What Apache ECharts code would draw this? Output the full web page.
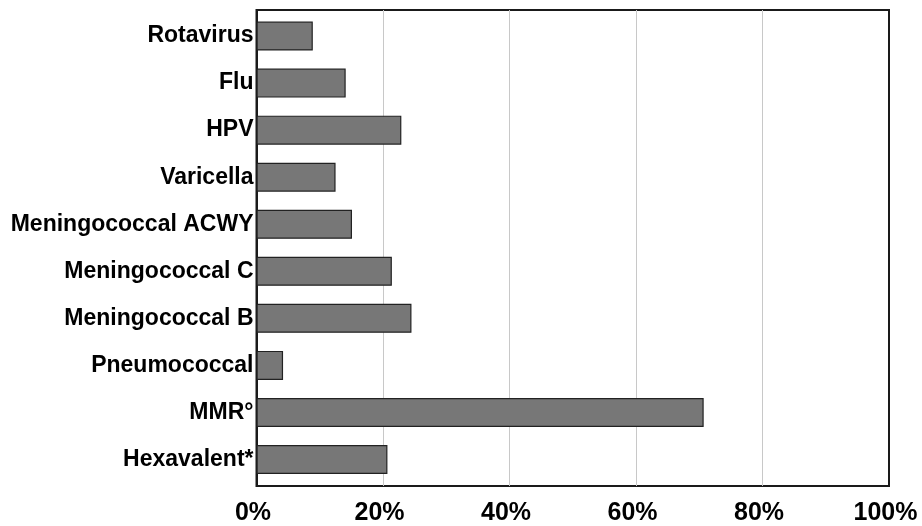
<!DOCTYPE html>
<html><head><meta charset="utf-8">
<script src="https://cdn.jsdelivr.net/npm/echarts@6/dist/echarts.min.js"></script>
<style>html,body{margin:0;padding:0;background:#fff}#c{width:922px;height:526px}</style>
</head><body><div id="c"></div>
<script>
const categories = ["Rotavirus","Flu","HPV","Varicella","Meningococcal ACWY","Meningococcal C","Meningococcal B","Pneumococcal","MMR°","Hexavalent*"];
const values = [8.9, 14.1, 22.9, 12.5, 15.1, 21.4, 24.5, 4.2, 70.7, 20.7];
const tickFormat = '{value}%';
const FONT = 'Liberation Sans, Arial, sans-serif';
const chart = echarts.init(document.getElementById('c'), null, {renderer:'canvas'});
chart.setOption({
  animation:false,
  backgroundColor:'#fff',
  grid:[
    {left:256.5, right:33, top:12.5, bottom:43, show:false},
    {left:256.5, right:33, top:10, bottom:40, show:true, borderColor:'#1a1a1a', borderWidth:2, backgroundColor:'transparent'}
  ],
  xAxis:[
    {gridIndex:0, type:'value', min:0, max:100, interval:20, show:false, splitLine:{show:false}},
    {gridIndex:1, type:'value', min:0, max:100, interval:20,
      axisLine:{show:false}, axisTick:{show:false},
      splitLine:{show:true, showMinLine:false, showMaxLine:false, lineStyle:{color:'#c8c8c8', width:1}},
      axisLabel:{formatter:tickFormat, color:'#000', fontFamily:FONT, fontWeight:'bold', fontSize:25, margin:15, padding:[0,7,0,0]}}
  ],
  yAxis:[
    {gridIndex:0, type:'category', data:categories, inverse:true,
      axisLine:{show:false}, axisTick:{show:false}, splitLine:{show:false},
      axisLabel:{color:'#000', fontFamily:FONT, fontWeight:'bold', fontSize:23, margin:3}},
    {gridIndex:1, type:'category', data:categories, show:true,
      axisLabel:{show:false}, axisTick:{show:false}, splitLine:{show:false},
      axisLine:{show:true, lineStyle:{color:'#1a1a1a', width:2}}}
  ],
  series:[{type:'bar', xAxisIndex:0, yAxisIndex:0, data:values, barWidth:29, z:3,
    itemStyle:{color:'#777777', borderColor:'#222222', borderWidth:1.2}}]
});
</script></body></html>
